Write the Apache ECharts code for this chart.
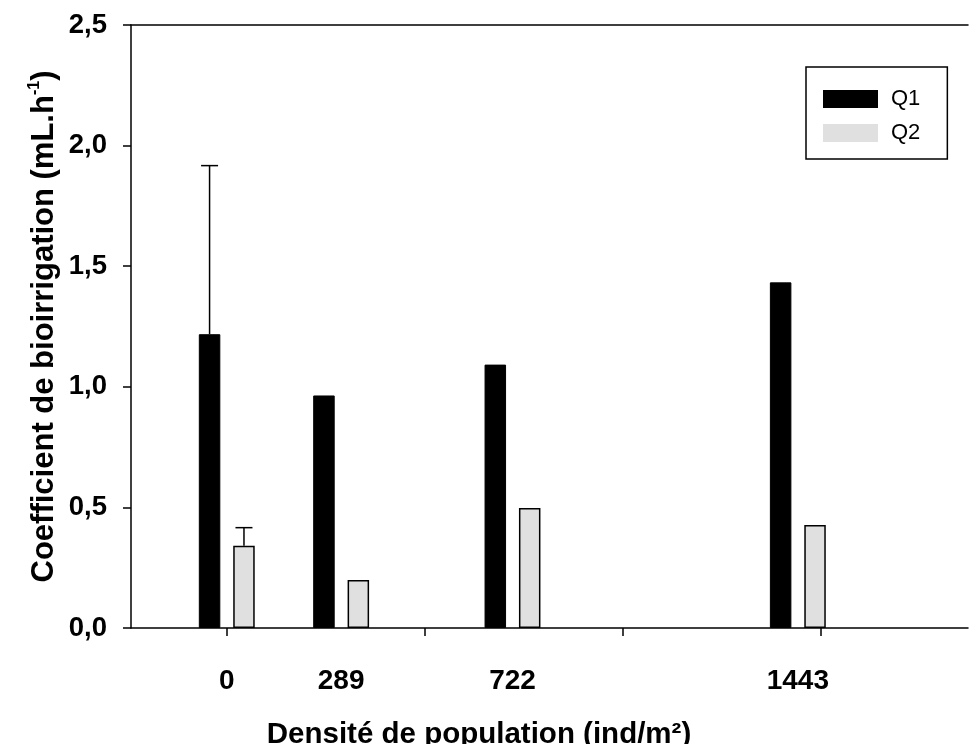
<!DOCTYPE html>
<html>
<head>
<meta charset="utf-8">
<script src="https://cdn.jsdelivr.net/npm/echarts@6/dist/echarts.min.js"></script>
<style>
html,body{margin:0;padding:0;background:#fff;}
#chart{width:970px;height:744px;}
</style>
</head>
<body>
<div id="chart"></div>
<script>
// ---- data ----
const densities = [0, 289, 722, 1443];
const densityLabels = ['0', '289', '722', '1443'];
const q1 = [1.218, 0.964, 1.092, 1.433];
const q2 = [0.341, 0.199, 0.497, 0.427];
const q1Upper = [1.917, null, null, null];
const q2Upper = [0.416, null, null, null];
const xTicks = [0, 500, 1000, 1500];
const yTicks = [0, 0.5, 1.0, 1.5, 2.0, 2.5];
const seriesNames = ['Q1', 'Q2'];
const xTitle = 'Densité de population (ind/m²)';
const yTitle = 'Coefficient de bioirrigation (mL.h{sup|-1})';

// ---- styles ----
const FONT = '"Liberation Sans", Arial, sans-serif';
const BAR_W = 21.5;
const BAR_GAP = 12.9;
const HALF = (BAR_W + BAR_GAP) / 2;

function errSeries(name, upper, means, dir) {
  const data = [];
  densities.forEach((d, i) => { if (upper[i] != null) data.push([d, means[i], upper[i]]); });
  return {
    type: 'custom',
    name: name + ' err',
    xAxisIndex: 0, yAxisIndex: 0,
    silent: true, z: 5,
    data: data,
    renderItem: function (params, api) {
      const x = api.value(0);
      const p0 = api.coord([x, api.value(1)]);
      const p1 = api.coord([x, api.value(2)]);
      const cx = p0[0] + dir * HALF;
      const cap = 8.5;
      return {
        type: 'group',
        children: [
          { type: 'line', shape: { x1: cx, y1: p0[1], x2: cx, y2: p1[1] }, style: { stroke: '#000', lineWidth: 1.5 } },
          { type: 'line', shape: { x1: cx - cap, y1: p1[1], x2: cx + cap, y2: p1[1] }, style: { stroke: '#000', lineWidth: 1.5 } }
        ]
      };
    }
  };
}

const chart = echarts.init(document.getElementById('chart'), null, { renderer: 'canvas' });
chart.setOption({
  animation: false,
  backgroundColor: '#fff',
  textStyle: { fontFamily: FONT },
  grid: { left: 131, right: 2, top: 25, bottom: 116, containLabel: false },
  title: {
    text: xTitle,
    left: 474, top: 715,
    textAlign: 'center',
    textStyle: { fontFamily: FONT, fontWeight: 'bold', fontSize: 29.5, color: '#000' }
  },
  legend: {
    orient: 'vertical',
    left: 806, top: 67,
    padding: [21, 27, 15, 17],
    borderColor: '#000', borderWidth: 1.5,
    itemWidth: 55, itemHeight: 18, itemGap: 12,
    textStyle: { fontFamily: FONT, fontSize: 22, color: '#000', lineHeight: 18, padding: [0, 0, 0, 8] },
    data: [
      { name: seriesNames[0], icon: 'rect', itemStyle: { color: '#000', borderWidth: 0 } },
      { name: seriesNames[1], icon: 'rect', itemStyle: { color: '#e0e0e0', borderWidth: 0 } }
    ]
  },
  xAxis: [{
    type: 'value',
    min: -242, max: 1873,
    position: 'bottom',
    axisLine: { show: true, onZero: false, lineStyle: { color: '#000', width: 1.5 } },
    axisTick: { show: true, inside: false, length: 8, customValues: xTicks, lineStyle: { color: '#000', width: 1.5 } },
    axisLabel: {
      customValues: densities,
      formatter: function (v) { const i = densities.indexOf(v); return i >= 0 ? densityLabels[i] : ''; },
      margin: 39, fontFamily: FONT, fontWeight: 'bold', fontSize: 28, color: '#000'
    },
    splitLine: { show: false }
  }, {
    type: 'value',
    min: -242, max: 1873,
    position: 'top',
    axisLine: { show: true, onZero: false, lineStyle: { color: '#000', width: 1.5 } },
    axisTick: { show: false },
    axisLabel: { show: false },
    splitLine: { show: false }
  }],
  yAxis: {
    type: 'value',
    min: 0, max: 2.5, interval: 0.5,
    position: 'left',
    axisLine: { show: true, onZero: false, lineStyle: { color: '#000', width: 1.5 } },
    axisTick: { show: true, inside: false, length: 8, lineStyle: { color: '#000', width: 1.5 } },
    axisLabel: {
      margin: 24,
      formatter: function (v) { return v.toFixed(1).replace('.', ','); },
      fontFamily: FONT, fontWeight: 'bold', fontSize: 27.5, color: '#000'
    },
    splitLine: { show: false },
    name: yTitle,
    nameLocation: 'middle',
    nameGap: 70,
    nameMoveOverlap: false,
    nameTextStyle: {
      fontFamily: FONT, fontWeight: 'bold', fontSize: 31, color: '#000', lineHeight: 34,
      rich: { sup: { fontFamily: FONT, fontWeight: 'bold', fontSize: 16, color: '#000', verticalAlign: 'top', lineHeight: 34 } }
    }
  },
  series: [
    {
      type: 'bar', name: seriesNames[0],
      xAxisIndex: 0, yAxisIndex: 0,
      barWidth: BAR_W, barGap: (BAR_GAP / BAR_W * 100).toFixed(1) + '%',
      itemStyle: { color: '#000', borderColor: '#000', borderWidth: 1 },
      data: densities.map((d, i) => [d, q1[i]])
    },
    {
      type: 'bar', name: seriesNames[1],
      xAxisIndex: 0, yAxisIndex: 0,
      barWidth: BAR_W,
      itemStyle: { color: '#e0e0e0', borderColor: '#000', borderWidth: 1.5 },
      data: densities.map((d, i) => [d, q2[i]])
    },
    errSeries('Q1', q1Upper, q1, -1),
    errSeries('Q2', q2Upper, q2, 1)
  ]
});
</script>
</body>
</html>
